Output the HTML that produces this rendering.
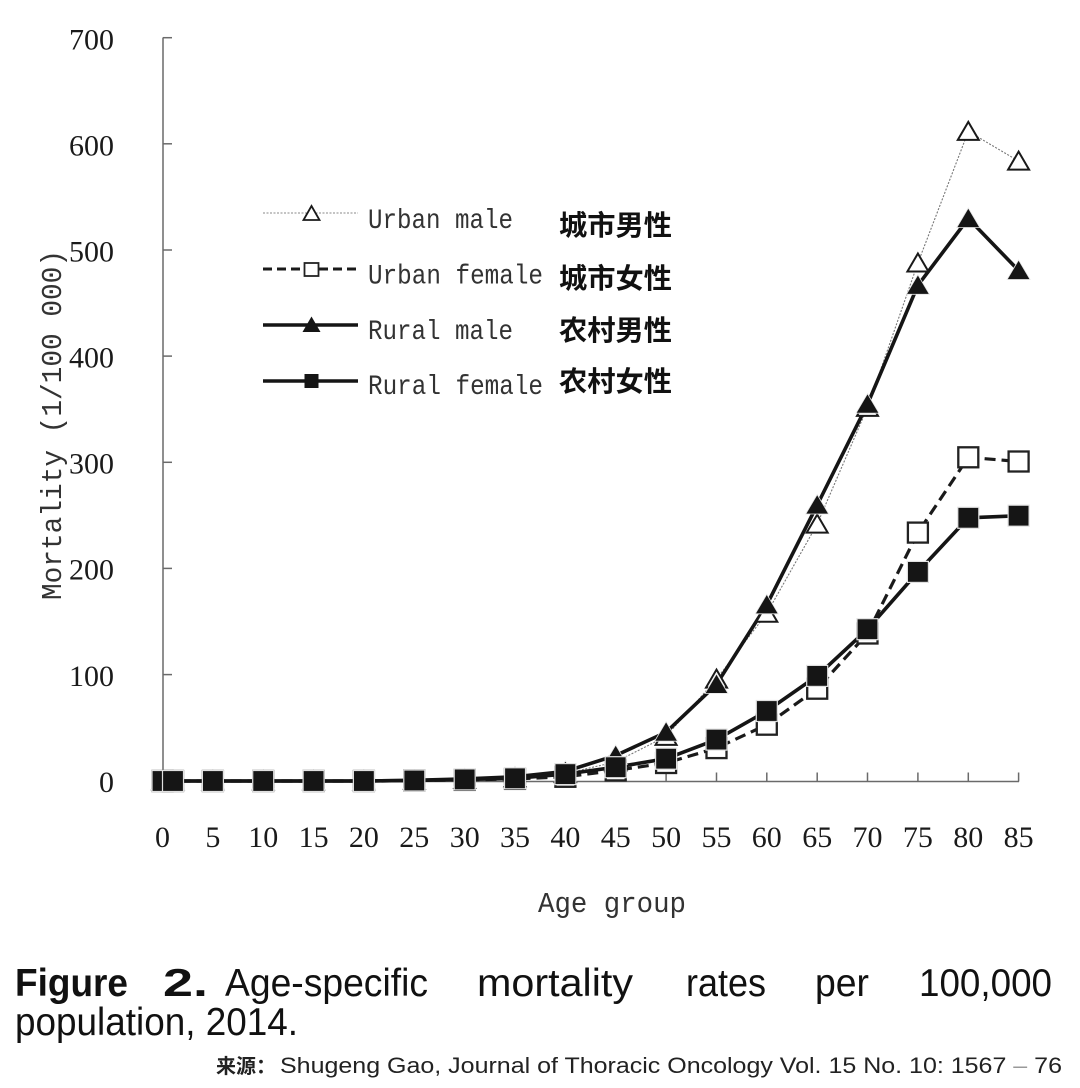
<!DOCTYPE html>
<html>
<head>
<meta charset="utf-8">
<style>
html,body{margin:0;padding:0;background:#fff;}
svg{display:block;}
</style>
</head>
<body>
<svg width="1080" height="1088" viewBox="0 0 1080 1088" xmlns="http://www.w3.org/2000/svg">
<defs>
  <polygon id="tf" points="0,-10.5 -11.5,9 11.5,9" fill="#151515" stroke="#e6e6e6" stroke-width="0.8"/>
  <polygon id="to" points="0,-9.5 -10.5,8.5 10.5,8.5" fill="#fff" stroke="#1a1a1a" stroke-width="2"/>
  <rect id="sf" x="-10.5" y="-10.5" width="21" height="21" fill="#151515" stroke="#e0e0e0" stroke-width="1.2"/>
  <rect id="so" x="-10" y="-10" width="20" height="20" fill="#fff" stroke="#222" stroke-width="2.3"/>
</defs>
<rect width="1080" height="1088" fill="#fff"/>

<!-- axes -->
<g stroke="#6a6a6a" stroke-width="1.5" fill="none">
  <line x1="163" y1="37.5" x2="163" y2="781.5"/>
  <line x1="163" y1="781.5" x2="1019" y2="781.5"/>
  <line x1="163" y1="37.7" x2="172" y2="37.7"/>
  <line x1="163" y1="143.8" x2="172" y2="143.8"/>
  <line x1="163" y1="250" x2="172" y2="250"/>
  <line x1="163" y1="356.1" x2="172" y2="356.1"/>
  <line x1="163" y1="462.3" x2="172" y2="462.3"/>
  <line x1="163" y1="568.4" x2="172" y2="568.4"/>
  <line x1="163" y1="674.6" x2="172" y2="674.6"/>
  <line x1="212.9" y1="772.5" x2="212.9" y2="781.5"/>
  <line x1="263.2" y1="772.5" x2="263.2" y2="781.5"/>
  <line x1="313.6" y1="772.5" x2="313.6" y2="781.5"/>
  <line x1="363.9" y1="772.5" x2="363.9" y2="781.5"/>
  <line x1="414.3" y1="772.5" x2="414.3" y2="781.5"/>
  <line x1="464.7" y1="772.5" x2="464.7" y2="781.5"/>
  <line x1="515.0" y1="772.5" x2="515.0" y2="781.5"/>
  <line x1="565.4" y1="772.5" x2="565.4" y2="781.5"/>
  <line x1="615.7" y1="772.5" x2="615.7" y2="781.5"/>
  <line x1="666.1" y1="772.5" x2="666.1" y2="781.5"/>
  <line x1="716.5" y1="772.5" x2="716.5" y2="781.5"/>
  <line x1="766.8" y1="772.5" x2="766.8" y2="781.5"/>
  <line x1="817.2" y1="772.5" x2="817.2" y2="781.5"/>
  <line x1="867.5" y1="772.5" x2="867.5" y2="781.5"/>
  <line x1="917.9" y1="772.5" x2="917.9" y2="781.5"/>
  <line x1="968.3" y1="772.5" x2="968.3" y2="781.5"/>
  <line x1="1018.6" y1="772.5" x2="1018.6" y2="781.5"/>
</g>

<!-- y tick labels -->
<g font-family="'Liberation Serif', serif" font-size="30" fill="#1a1a1a" text-anchor="end">
  <text x="114" y="49.5">700</text>
  <text x="114" y="155.5">600</text>
  <text x="114" y="261.5">500</text>
  <text x="114" y="367.5">400</text>
  <text x="114" y="473.5">300</text>
  <text x="114" y="579.5">200</text>
  <text x="114" y="686">100</text>
  <text x="114" y="792">0</text>
</g>

<!-- x tick labels -->
<g font-family="'Liberation Serif', serif" font-size="30" fill="#1a1a1a" text-anchor="middle">
  <text x="162.5" y="847">0</text>
  <text x="212.9" y="847">5</text>
  <text x="263.2" y="847">10</text>
  <text x="313.6" y="847">15</text>
  <text x="363.9" y="847">20</text>
  <text x="414.3" y="847">25</text>
  <text x="464.7" y="847">30</text>
  <text x="515.0" y="847">35</text>
  <text x="565.4" y="847">40</text>
  <text x="615.7" y="847">45</text>
  <text x="666.1" y="847">50</text>
  <text x="716.5" y="847">55</text>
  <text x="766.8" y="847">60</text>
  <text x="817.2" y="847">65</text>
  <text x="867.5" y="847">70</text>
  <text x="917.9" y="847">75</text>
  <text x="968.3" y="847">80</text>
  <text x="1018.6" y="847">85</text>
</g>

<!-- axis titles -->
<text transform="translate(61,425) rotate(-90)" x="-175" y="0" font-family="'Liberation Mono', monospace" font-size="29" fill="#333" textLength="350" lengthAdjust="spacingAndGlyphs">Mortality (1/100 000)</text>
<text x="538" y="912" font-family="'Liberation Mono', monospace" font-size="29" fill="#333" textLength="148" lengthAdjust="spacingAndGlyphs">Age group</text>

<!-- series lines -->
<polyline fill="none" stroke="#777" stroke-width="1.1" stroke-dasharray="2 1.5"
  points="162.5,781 173,781 212.9,781 263.2,781 313.6,781 363.9,781 414.3,780.5 464.7,779.4 515.0,777.8 565.4,773.6 615.7,761.9 666.1,736.4 716.5,679.1 766.8,613.3 817.2,524.1 867.5,407.4 917.9,263.0 968.3,131.4 1018.6,161.1"/>
<polyline fill="none" stroke="#1a1a1a" stroke-width="3.2" stroke-dasharray="11 6"
  points="162.5,781 173,781 212.9,781 263.2,781 313.6,781 363.9,781 414.3,780.5 464.7,779.9 515.0,778.9 565.4,776.8 615.7,770.4 666.1,763.0 716.5,748.1 766.8,724.7 817.2,688.7 867.5,633.5 917.9,532.6 968.3,457.3 1018.6,461.5"/>
<polyline fill="none" stroke="#151515" stroke-width="3.6" stroke-linejoin="round"
  points="162.5,781 173,781 212.9,781 263.2,781 313.6,781 363.9,781 414.3,780.3 464.7,778.9 515.0,776.8 565.4,771.4 615.7,755.5 666.1,732.2 716.5,684.4 766.8,604.8 817.2,505.0 867.5,404.2 917.9,285.3 968.3,218.5 1018.6,270.5"/>
<polyline fill="none" stroke="#151515" stroke-width="3.6" stroke-linejoin="round"
  points="162.5,781 173,781 212.9,781 263.2,781 313.6,781 363.9,781 414.3,780.5 464.7,779.4 515.0,778.3 565.4,774.1 615.7,767.2 666.1,758.7 716.5,739.6 766.8,711.0 817.2,675.9 867.5,629.2 917.9,571.9 968.3,517.8 1018.6,515.7"/>

<!-- urban male markers -->
<g>
  <use href="#to" x="162.5" y="781"/><use href="#to" x="173" y="781"/>
  <use href="#to" x="212.9" y="781"/><use href="#to" x="263.2" y="781"/>
  <use href="#to" x="313.6" y="781"/><use href="#to" x="363.9" y="781"/>
  <use href="#to" x="414.3" y="780.5"/><use href="#to" x="464.7" y="779.4"/>
  <use href="#to" x="515.0" y="777.8"/><use href="#to" x="565.4" y="773.6"/>
  <use href="#to" x="615.7" y="761.9"/><use href="#to" x="666.1" y="736.4"/>
  <use href="#to" x="716.5" y="679.1"/><use href="#to" x="766.8" y="613.3"/>
  <use href="#to" x="817.2" y="524.1"/><use href="#to" x="867.5" y="407.4"/>
  <use href="#to" x="917.9" y="263.0"/><use href="#to" x="968.3" y="131.4"/>
  <use href="#to" x="1018.6" y="161.1"/>
</g>
<!-- urban female markers -->
<g>
  <use href="#so" x="162.5" y="781"/><use href="#so" x="173" y="781"/>
  <use href="#so" x="212.9" y="781"/><use href="#so" x="263.2" y="781"/>
  <use href="#so" x="313.6" y="781"/><use href="#so" x="363.9" y="781"/>
  <use href="#so" x="414.3" y="780.5"/><use href="#so" x="464.7" y="779.9"/>
  <use href="#so" x="515.0" y="778.9"/><use href="#so" x="565.4" y="776.8"/>
  <use href="#so" x="615.7" y="770.4"/><use href="#so" x="666.1" y="763.0"/>
  <use href="#so" x="716.5" y="748.1"/><use href="#so" x="766.8" y="724.7"/>
  <use href="#so" x="817.2" y="688.7"/><use href="#so" x="867.5" y="633.5"/>
  <use href="#so" x="917.9" y="532.6"/><use href="#so" x="968.3" y="457.3"/>
  <use href="#so" x="1018.6" y="461.5"/>
</g>
<!-- rural male markers -->
<g>
  <use href="#tf" x="162.5" y="781"/><use href="#tf" x="173" y="781"/>
  <use href="#tf" x="212.9" y="781"/><use href="#tf" x="263.2" y="781"/>
  <use href="#tf" x="313.6" y="781"/><use href="#tf" x="363.9" y="781"/>
  <use href="#tf" x="414.3" y="780.3"/><use href="#tf" x="464.7" y="778.9"/>
  <use href="#tf" x="515.0" y="776.8"/><use href="#tf" x="565.4" y="771.4"/>
  <use href="#tf" x="615.7" y="755.5"/><use href="#tf" x="666.1" y="732.2"/>
  <use href="#tf" x="716.5" y="684.4"/><use href="#tf" x="766.8" y="604.8"/>
  <use href="#tf" x="817.2" y="505.0"/><use href="#tf" x="867.5" y="404.2"/>
  <use href="#tf" x="917.9" y="285.3"/><use href="#tf" x="968.3" y="218.5"/>
  <use href="#tf" x="1018.6" y="270.5"/>
</g>
<!-- rural female markers -->
<g>
  <use href="#sf" x="162.5" y="781"/><use href="#sf" x="173" y="781"/>
  <use href="#sf" x="212.9" y="781"/><use href="#sf" x="263.2" y="781"/>
  <use href="#sf" x="313.6" y="781"/><use href="#sf" x="363.9" y="781"/>
  <use href="#sf" x="414.3" y="780.5"/><use href="#sf" x="464.7" y="779.4"/>
  <use href="#sf" x="515.0" y="778.3"/><use href="#sf" x="565.4" y="774.1"/>
  <use href="#sf" x="615.7" y="767.2"/><use href="#sf" x="666.1" y="758.7"/>
  <use href="#sf" x="716.5" y="739.6"/><use href="#sf" x="766.8" y="711.0"/>
  <use href="#sf" x="817.2" y="675.9"/><use href="#sf" x="867.5" y="629.2"/>
  <use href="#sf" x="917.9" y="571.9"/><use href="#sf" x="968.3" y="517.8"/>
  <use href="#sf" x="1018.6" y="515.7"/>
</g>

<!-- legend -->
<g>
  <line x1="263" y1="213" x2="358" y2="213" stroke="#888" stroke-width="1.1" stroke-dasharray="2 1.5"/>
  <polygon points="311.5,206 303.5,220 319.5,220" fill="#fff" stroke="#1a1a1a" stroke-width="1.8"/>
  <line x1="263" y1="269" x2="358" y2="269" stroke="#1a1a1a" stroke-width="3" stroke-dasharray="9 5"/>
  <rect x="304.5" y="263" width="14" height="13" fill="#fff" stroke="#222" stroke-width="1.8"/>
  <line x1="263" y1="325" x2="358" y2="325" stroke="#151515" stroke-width="3.4"/>
  <polygon points="311.5,316.5 302.5,332 320.5,332" fill="#151515"/>
  <line x1="263" y1="381" x2="358" y2="381" stroke="#151515" stroke-width="3.4"/>
  <rect x="304.5" y="374" width="14" height="14" fill="#151515"/>
</g>
<g font-family="'Liberation Mono', monospace" font-size="28" fill="#333">
  <text x="368" y="228" textLength="145" lengthAdjust="spacingAndGlyphs">Urban male</text>
  <text x="368" y="283.5" textLength="175" lengthAdjust="spacingAndGlyphs">Urban female</text>
  <text x="368" y="339" textLength="145" lengthAdjust="spacingAndGlyphs">Rural male</text>
  <text x="368" y="394" textLength="175" lengthAdjust="spacingAndGlyphs">Rural female</text>
</g>
<g font-family="'Liberation Sans', 'Noto Sans CJK SC', sans-serif" font-size="28" font-weight="bold" fill="#111">
  <text x="559" y="235" textLength="113" lengthAdjust="spacingAndGlyphs">城市男性</text>
  <text x="559" y="288" textLength="113" lengthAdjust="spacingAndGlyphs">城市女性</text>
  <text x="559" y="340" textLength="113" lengthAdjust="spacingAndGlyphs">农村男性</text>
  <text x="559" y="391" textLength="113" lengthAdjust="spacingAndGlyphs">农村女性</text>
</g>

<!-- caption -->
<g font-family="'Liberation Sans', sans-serif" font-size="39" fill="#111">
  <text x="15" y="996" font-weight="bold" textLength="113" lengthAdjust="spacingAndGlyphs">Figure</text>
  <text x="163" y="996" font-weight="bold" textLength="45" lengthAdjust="spacingAndGlyphs">2.</text>
  <text x="225" y="996" textLength="203" lengthAdjust="spacingAndGlyphs">Age-specific</text>
  <text x="477" y="996" textLength="156" lengthAdjust="spacingAndGlyphs">mortality</text>
  <text x="686" y="996" textLength="80" lengthAdjust="spacingAndGlyphs">rates</text>
  <text x="815" y="996" textLength="54" lengthAdjust="spacingAndGlyphs">per</text>
  <text x="919" y="996" textLength="133" lengthAdjust="spacingAndGlyphs">100,000</text>
  <text x="15" y="1035" textLength="283" lengthAdjust="spacingAndGlyphs">population, 2014.</text>
</g>
<text x="216" y="1073" font-family="'Liberation Sans', 'Noto Sans CJK SC', sans-serif" font-size="20" font-weight="bold" fill="#222" textLength="60" lengthAdjust="spacingAndGlyphs">来源：</text>
<text x="280" y="1073" font-family="'Liberation Sans', sans-serif" font-size="22" fill="#222" textLength="782" lengthAdjust="spacingAndGlyphs">Shugeng Gao, Journal of Thoracic Oncology Vol. 15 No. 10: 1567 <tspan fill="#999">–</tspan> 76</text>
</svg>
</body>
</html>
